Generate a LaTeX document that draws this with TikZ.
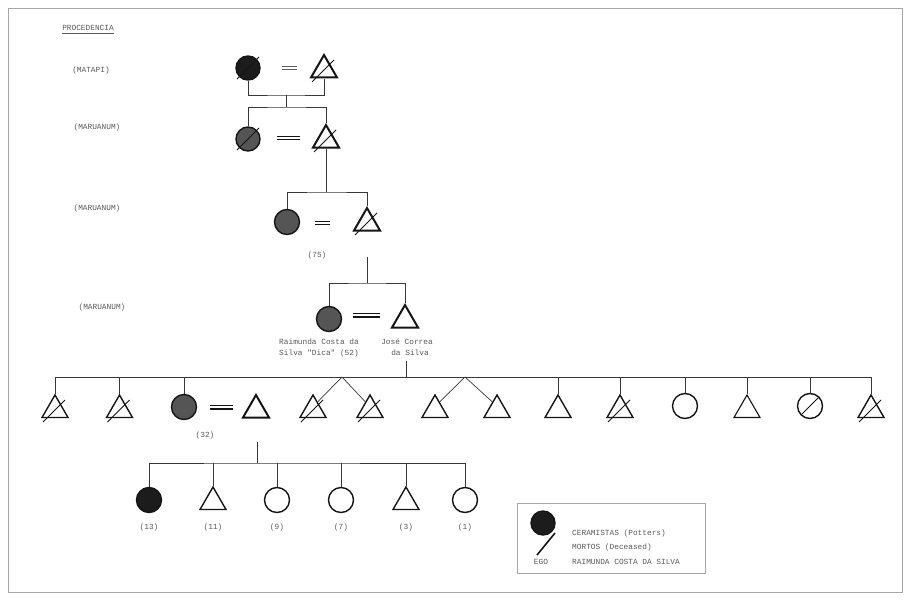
\documentclass[tikz,border=0pt]{standalone}
\usepackage{fontspec}
\setmonofont{Liberation Mono}
\usetikzlibrary{shapes.geometric,calc}
\definecolor{ink}{HTML}{151515}
\definecolor{potter}{HTML}{555555}
\definecolor{dark}{HTML}{1C1C1C}
\definecolor{txt}{HTML}{5A5A5A}
\newcommand\tslash[1]{\draw[slashline] ($(#1)+(-12,12)$) -- ($(#1)+(10,-10)$);}
\newcommand\cslash[2]{\draw[slashline] ($(#1)+(-#2,#2)$) -- ($(#1)+(#2,-#2)$);}
\begin{document}
\begin{tikzpicture}[x=1pt,y=-1pt,
  fem/.style={circle, draw=ink, line width=1.4pt, minimum size=25pt, inner sep=0pt},
  male/.style={regular polygon, regular polygon sides=3, draw=ink, line width=1.4pt, minimum size=30pt, inner sep=0pt},
  heavy/.style={line width=2pt},
  kin/.style={draw=ink!85, line width=0.7pt},
  slashline/.style={draw=ink, line width=1pt},
  marry/.style={draw=ink, line width=1.2pt},
  lbl/.style={font=\ttfamily\fontsize{7.8}{9}\selectfont, text=txt, inner sep=0pt}]
\useasboundingbox (0,0) rectangle (909,599);
\fill[white] (0,0) rectangle (909,599);
% frame
\draw[gray!70, line width=0.6pt] (8,8) rectangle (902,592);

% left labels
\node[lbl] (proc) at (88,28) {PROCEDENCIA};
\draw[txt, line width=0.5pt] ([yshift=-2pt]proc.south west) -- ([yshift=-2pt]proc.south east);
\node[lbl] (l1) at (91,70) {(MATAPI)};
\node[lbl] (l2) at (97,127) {(MARUANUM)};
\node[lbl] (l3) at (97,208) {(MARUANUM)};
\node[lbl] (l4) at (102,307) {(MARUANUM)};

% generation 1
\node[fem, fill=dark, minimum size=24pt] (g1f) at (248,68) {};
\node[male, heavy] (g1m) at (324,70) {};
\cslash{g1f}{11}
\tslash{g1m}
\draw[draw=ink!70, line width=0.8pt] (282,66) -- (297,66) (282,69) -- (297,69);
\coordinate (g1j) at (286,95);
\coordinate (g1d) at (286,107);
\draw[kin] (g1f.south) |- (g1j) -| (g1m.south);
\draw[kin] (g1j) -- (g1d);

% generation 2
\node[fem, fill=potter, minimum size=24pt] (g2f) at (248,139) {};
\node[male, heavy] (g2m) at (326,140) {};
\cslash{g2f}{11}
\tslash{g2m}
\draw[marry] (277,136.5) -- (300,136.5) (277,139.5) -- (300,139.5);
\draw[kin] (g2f.north) |- (g1d) -| (g2m.north);
\coordinate (g2d) at (326,192);
\draw[kin] (g2m.south) -- (g2d);

% generation 3
\node[fem, fill=potter] (g3f) at (287,222) {};
\node[male, heavy] (g3m) at (367,223) {};
\tslash{g3m}
\draw[marry] (315,221.5) -- (330,221.5) (315,224.5) -- (330,224.5);
\draw[kin] (g3f.north) |- (g2d) -| (g3m.north);
\node[lbl] (a75) at (317,255) {(75)};
\coordinate (g3s) at (367,257);
\coordinate (g3d) at (367,283);
\draw[kin] (g3s) -- (g3d);

% generation 4
\node[fem, fill=potter] (g4f) at (329,319) {};
\node[male, heavy] (g4m) at (405,320) {};
\draw[marry, line width=1.5pt] (353,313.5) -- (380,313.5) (353,316.8) -- (380,316.8);
\draw[kin] (g4f.north) |- (g3d) -| (g4m.north);
\node[lbl] (dica1) at (319,342) {Raimunda Costa da};
\node[lbl] (dica2) at (319,353) {Silva "Dica" (52)};
\node[lbl] (jose1) at (407,342) {José Correa};
\node[lbl] (jose2) at (410,353) {da Silva};
\coordinate (g4s) at (406,361);
\coordinate (g4d) at (406,377);
\draw[kin] (g4s) -- (g4d);

% generation 5
\coordinate (b5l) at (55,377);
\coordinate (b5r) at (871,377);
\draw[kin] (b5l) -- (b5r);
\node[male] (t51) at (55,410) {};
\node[male] (t52) at (119.5,410) {};
\node[fem, fill=potter] (c53) at (184,407) {};
\node[male, heavy] (t55) at (256,410) {};
\node[male] (t56) at (313,410) {};
\node[male] (t57) at (370,410) {};
\node[male] (t58) at (435,410) {};
\node[male] (t59) at (497,410) {};
\node[male] (t510) at (558,410) {};
\node[male] (t511) at (620,410) {};
\node[fem] (c512) at (685,406) {};
\node[male, line width=1.1pt] (t513) at (747,410) {};
\node[fem] (c514) at (810,406) {};
\node[male] (t515) at (871,410) {};
\tslash{t51}
\tslash{t52}
\tslash{t56}
\tslash{t57}
\tslash{t511}
\tslash{t515}
\cslash{c514}{9}
\draw[marry, line width=1.5pt] (210,405.5) -- (233,405.5) (210,408.8) -- (233,408.8);
\foreach \n/\x in {t51/55, t52/119.5, c53/184, t510/558, t511/620, c512/685, t513/747, c514/810, t515/871}
  \draw[kin] (\x,377) -- (\n.north);
\coordinate (tw1) at (342,377);
\coordinate (tw2) at (465,377);
\draw[kin] (t56.60) -- (tw1) -- (t57.120);
\draw[kin] (t58.60) -- (tw2) -- (t59.120);
\node[lbl] (a32) at (205,435) {(32)};

% generation 6
\coordinate (g5s) at (257,442);
\coordinate (g5d) at (257,463);
\draw[kin] (g5s) -- (g5d);
\node[fem, fill=dark] (c61) at (149,500) {};
\node[male] (t62) at (213,502) {};
\node[fem] (c63) at (277,500) {};
\node[fem] (c64) at (341,500) {};
\node[male] (t65) at (406,502) {};
\node[fem] (c66) at (465,500) {};
\draw[kin] (c61.north) |- (g5d) -| (c66.north);
\foreach \n/\x in {t62/213, c63/277, c64/341, t65/406}
  \draw[kin] (\x,463) -- (\n.north);
\node[lbl] at (149,527) {(13)};
\node[lbl] at (213,527) {(11)};
\node[lbl] at (277,527) {(9)};
\node[lbl] at (341,527) {(7)};
\node[lbl] at (406,527) {(3)};
\node[lbl] at (465,527) {(1)};

% legend
\draw[gray!70, line width=0.6pt] (517,503) rectangle (705,573);
\node[fem, fill=dark, minimum size=24pt] (lgc) at (543,523) {};
\draw[slashline, line width=1.6pt] (537,555) -- (555,533);
\node[lbl, anchor=west] (lg1) at (572,533) {CERAMISTAS (Potters)};
\node[lbl, anchor=west] (lg2) at (572,547) {MORTOS (Deceased)};
\node[lbl] (lg3) at (541,562) {EGO};
\node[lbl, anchor=west] (lg4) at (572,562) {RAIMUNDA COSTA DA SILVA};
\end{tikzpicture}
\end{document}
